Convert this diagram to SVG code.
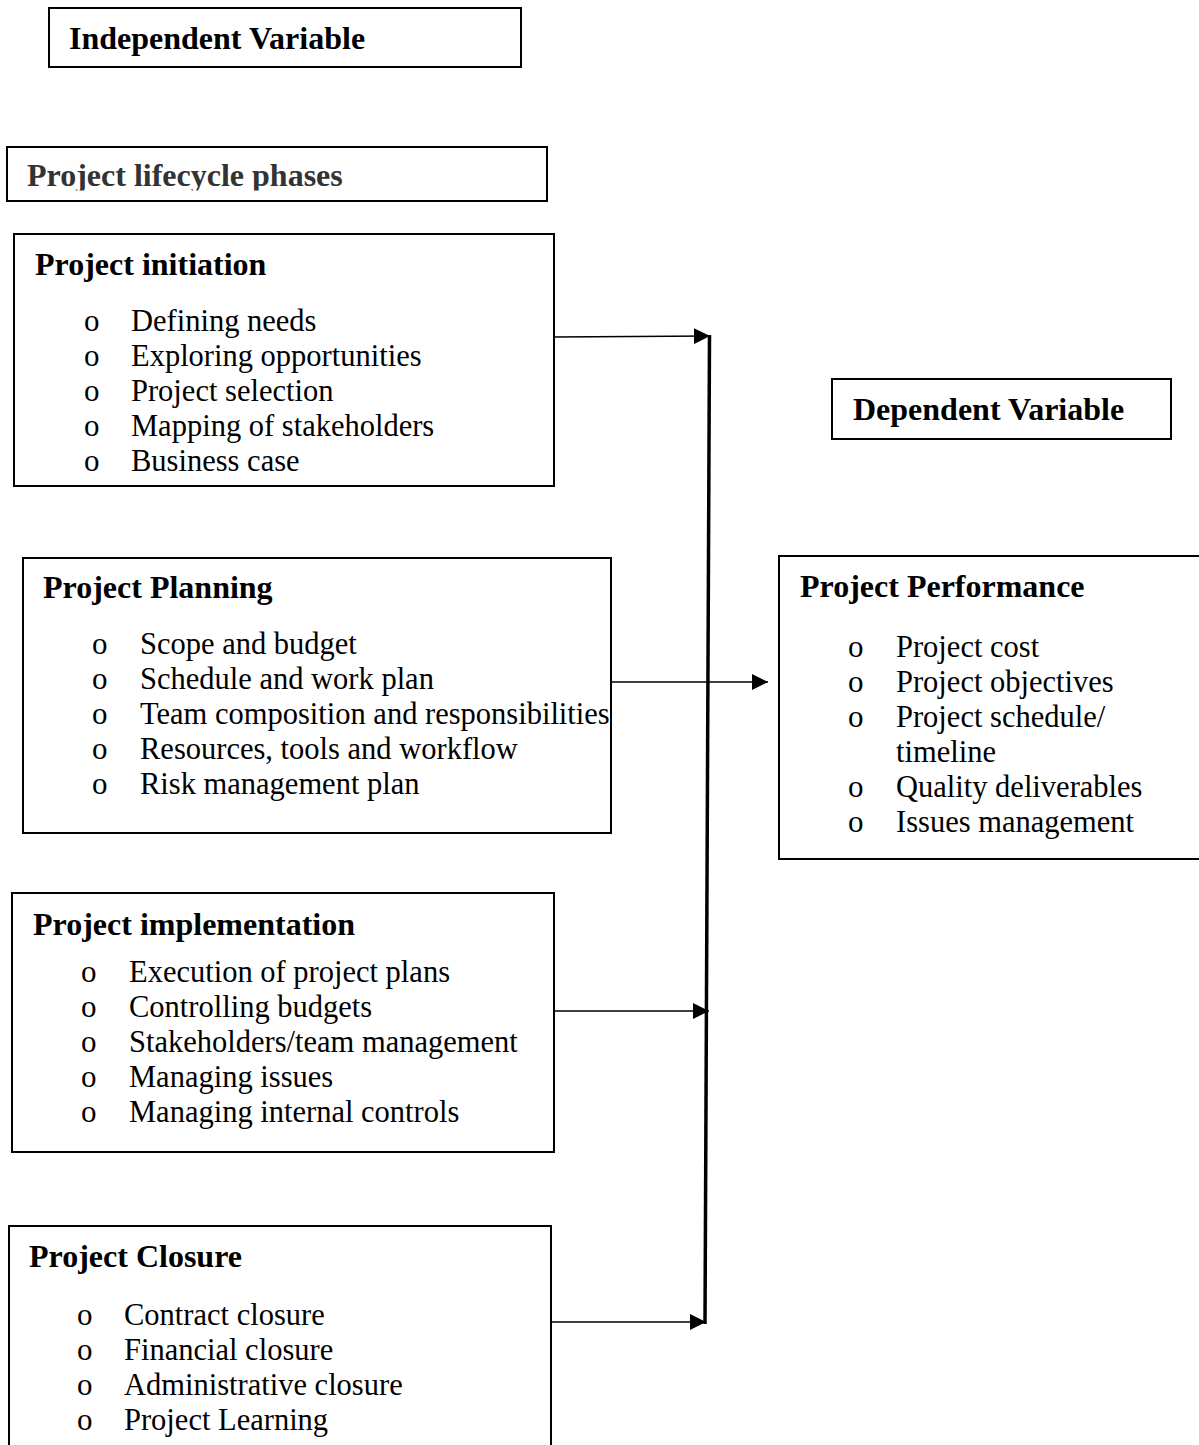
<svg xmlns="http://www.w3.org/2000/svg" width="1199" height="1445" viewBox="0 0 1199 1445">
<style>
.box{fill:#fff;stroke:#000;stroke-width:2}
.h{font-family:"Liberation Serif","Times New Roman",serif;font-weight:bold;font-size:32px;fill:#000}
.t{font-family:"Liberation Serif","Times New Roman",serif;font-size:30.5px;fill:#000}
.b{font-family:"Liberation Serif","Times New Roman",serif;font-size:31px;fill:#000}
.c{stroke:#000;stroke-width:1.5;fill:none}
.v{stroke:#000;stroke-width:3.5;fill:none}
</style>
<defs>
<marker id="ah" viewBox="0 0 10 10" refX="10" refY="5" markerUnits="userSpaceOnUse" markerWidth="16" markerHeight="16" orient="auto">
<path d="M0,0 L10,5 L0,10 z" fill="#000"/>
</marker>
<clipPath id="clipLc"><rect x="0" y="140" width="560" height="50.5"/></clipPath>
<clipPath id="clipBottom"><rect x="0" y="1200" width="600" height="237"/></clipPath>
</defs>
<rect width="1199" height="1445" fill="#fff"/>

<g id="independent-variable">
<rect class="box" x="49" y="8" width="472" height="59"/>
<text class="h" x="69" y="49">Independent Variable</text>
</g>

<g id="lifecycle-phases">
<rect class="box" x="7" y="147" width="540" height="54"/>
<text class="h" x="27" y="186" style="fill:#333" clip-path="url(#clipLc)">Project lifecycle phases</text>
</g>

<g id="project-initiation">
<rect class="box" x="14" y="234" width="540" height="252"/>
<text class="h" x="35" y="275">Project initiation</text>
<text class="b" x="84" y="331">o</text><text class="t" x="131" y="331">Defining needs</text>
<text class="b" x="84" y="366">o</text><text class="t" x="131" y="366">Exploring opportunities</text>
<text class="b" x="84" y="401">o</text><text class="t" x="131" y="401">Project selection</text>
<text class="b" x="84" y="436">o</text><text class="t" x="131" y="436">Mapping of stakeholders</text>
<text class="b" x="84" y="471">o</text><text class="t" x="131" y="471">Business case</text>
</g>

<g id="project-planning">
<rect class="box" x="23" y="558" width="588" height="275"/>
<text class="h" x="43" y="598">Project Planning</text>
<text class="b" x="92" y="654">o</text><text class="t" x="140" y="654">Scope and budget</text>
<text class="b" x="92" y="689">o</text><text class="t" x="140" y="689">Schedule and work plan</text>
<text class="b" x="92" y="724">o</text><text class="t" x="140" y="724">Team composition and responsibilities</text>
<text class="b" x="92" y="759">o</text><text class="t" x="140" y="759">Resources, tools and workflow</text>
<text class="b" x="92" y="794">o</text><text class="t" x="140" y="794">Risk management plan</text>
</g>

<g id="project-implementation">
<rect class="box" x="12" y="893" width="542" height="259"/>
<text class="h" x="33" y="935">Project implementation</text>
<text class="b" x="81" y="982">o</text><text class="t" x="129" y="982">Execution of project plans</text>
<text class="b" x="81" y="1017">o</text><text class="t" x="129" y="1017">Controlling budgets</text>
<text class="b" x="81" y="1052">o</text><text class="t" x="129" y="1052">Stakeholders/team management</text>
<text class="b" x="81" y="1087">o</text><text class="t" x="129" y="1087">Managing issues</text>
<text class="b" x="81" y="1122">o</text><text class="t" x="129" y="1122">Managing internal controls</text>
</g>

<g id="project-closure">
<rect class="box" x="9" y="1226" width="542" height="240"/>
<g clip-path="url(#clipBottom)">
<text class="h" x="29" y="1267">Project Closure</text>
<text class="b" x="77" y="1325">o</text><text class="t" x="124" y="1325">Contract closure</text>
<text class="b" x="77" y="1360">o</text><text class="t" x="124" y="1360">Financial closure</text>
<text class="b" x="77" y="1395">o</text><text class="t" x="124" y="1395">Administrative closure</text>
<text class="b" x="77" y="1430">o</text><text class="t" x="124" y="1430">Project Learning</text>
</g>
</g>

<g id="dependent-variable">
<rect class="box" x="832" y="379" width="339" height="60"/>
<text class="h" x="853" y="420">Dependent Variable</text>
</g>

<g id="project-performance">
<rect class="box" x="779" y="556" width="440" height="303"/>
<text class="h" x="800" y="597">Project Performance</text>
<text class="b" x="848" y="657">o</text><text class="t" x="896" y="657">Project cost</text>
<text class="b" x="848" y="692">o</text><text class="t" x="896" y="692">Project objectives</text>
<text class="b" x="848" y="727">o</text><text class="t" x="896" y="727">Project schedule/</text>
<text class="t" x="896" y="762">timeline</text>
<text class="b" x="848" y="797">o</text><text class="t" x="896" y="797">Quality deliverables</text>
<text class="b" x="848" y="832">o</text><text class="t" x="896" y="832">Issues management</text>
</g>

<g id="connectors">
<line class="v" x1="709.5" y1="335" x2="705" y2="1324"/>
<line class="c" x1="554" y1="337" x2="710" y2="336" marker-end="url(#ah)"/>
<line class="c" x1="611" y1="682" x2="768" y2="682" marker-end="url(#ah)"/>
<line class="c" x1="554" y1="1011" x2="709" y2="1011" marker-end="url(#ah)"/>
<line class="c" x1="551" y1="1322" x2="706" y2="1322" marker-end="url(#ah)"/>
</g>
</svg>
